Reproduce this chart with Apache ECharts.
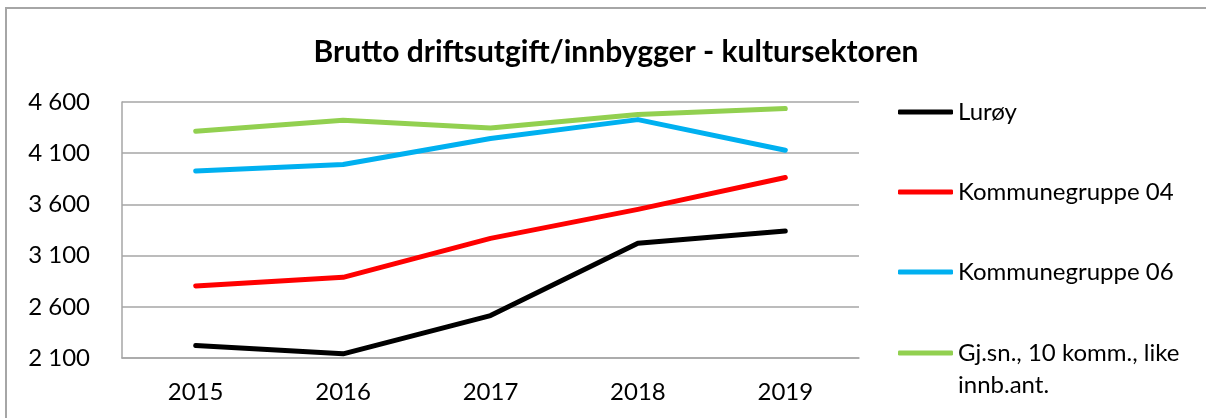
<!DOCTYPE html>
<html>
<head>
<meta charset="utf-8">
<script src="https://cdn.jsdelivr.net/npm/echarts@6/dist/echarts.min.js"></script>
<style>
  html, body { margin: 0; padding: 0; background: #fff; }
  #chart { width: 1206px; height: 418px; }
</style>
</head>
<body>
<div id="chart"></div>
<script>
// Data
const years = ['2015', '2016', '2017', '2018', '2019']
const luroy = [2223, 2141, 2514, 3220, 3340]
const kgr04 = [2804, 2888, 3268, 3551, 3863]
const kgr06 = [3925, 3990, 4243, 4428, 4129]
const gjsn = [4314, 4422, 4347, 4477, 4536]
const seriesNames = ['Lurøy', 'Kommunegruppe 04', 'Kommunegruppe 06', 'Gj.sn., 10 komm., like innb.ant.']
const seriesColors = ['#000000', '#FF0000', '#00B0F0', '#92D050']

const font = 'Lato, "Open Sans", sans-serif'
const chart = echarts.init(document.getElementById('chart'))

// mellomrom som tusenskille
const fmt = v => String(v).replace(/\B(?=(\d{3})+(?!\d))/g, ' ')

const makeSeries = (name, data, color) => ({
  name: name,
  type: 'line',
  data: data,
  symbol: 'none',
  lineStyle: { color: color, width: 5, cap: 'round', join: 'round' },
  itemStyle: { color: color }
})

// one legend per entry so the spacing matches
// (blank first line keeps the icon level with the first text line)
const makeLegend = (name, top, lh) => ({
  orient: 'vertical',
  left: 898,
  top: top,
  padding: 0,
  itemWidth: 55,
  itemHeight: 5,
  icon: 'roundRect',
  textStyle: { fontFamily: font, fontSize: 24, color: '#000', lineHeight: lh || 30 },
  data: [name],
  formatter: n => n === seriesNames[3] ? '\nGj.sn., 10 komm., like\ninnb.ant.' : n
})

chart.setOption({
  animation: false,
  title: {
    text: 'Brutto driftsutgift/innbygger - kultursektoren',
    left: 611,
    textAlign: 'center',
    top: 32,
    textStyle: { fontFamily: font, fontSize: 30, fontWeight: 'bold', color: '#000' }
  },
  graphic: [{
    type: 'rect',
    shape: { x: 6, y: 8, width: 1240, height: 440 },
    style: { fill: 'none', stroke: '#A6A6A6', lineWidth: 2 },
    silent: true
  }],
  legend: [
    makeLegend(seriesNames[0], 97),
    makeLegend(seriesNames[1], 177),
    makeLegend(seriesNames[2], 257),
    makeLegend(seriesNames[3], 305, 32)
  ],
  grid: { left: 122, right: 347, top: 102, bottom: 60 },
  xAxis: {
    type: 'category',
    data: years,
    boundaryGap: true,
    axisLine: { lineStyle: { color: '#A6A6A6', width: 1.5 } },
    axisTick: { show: false },
    axisLabel: { fontFamily: font, fontSize: 24, color: '#000', margin: 22 }
  },
  yAxis: {
    type: 'value',
    min: 2100,
    max: 4600,
    interval: 500,
    axisLine: { show: true, lineStyle: { color: '#A6A6A6', width: 1.5 } },
    axisTick: { show: false },
    splitLine: { lineStyle: { color: '#A6A6A6', width: 1.5 } },
    axisLabel: { fontFamily: font, fontSize: 24, color: '#000', margin: 32, formatter: fmt }
  },
  series: [
    makeSeries(seriesNames[0], luroy, seriesColors[0]),
    makeSeries(seriesNames[1], kgr04, seriesColors[1]),
    makeSeries(seriesNames[2], kgr06, seriesColors[2]),
    makeSeries(seriesNames[3], gjsn, seriesColors[3])
  ]
})
</script>
</body>
</html>
